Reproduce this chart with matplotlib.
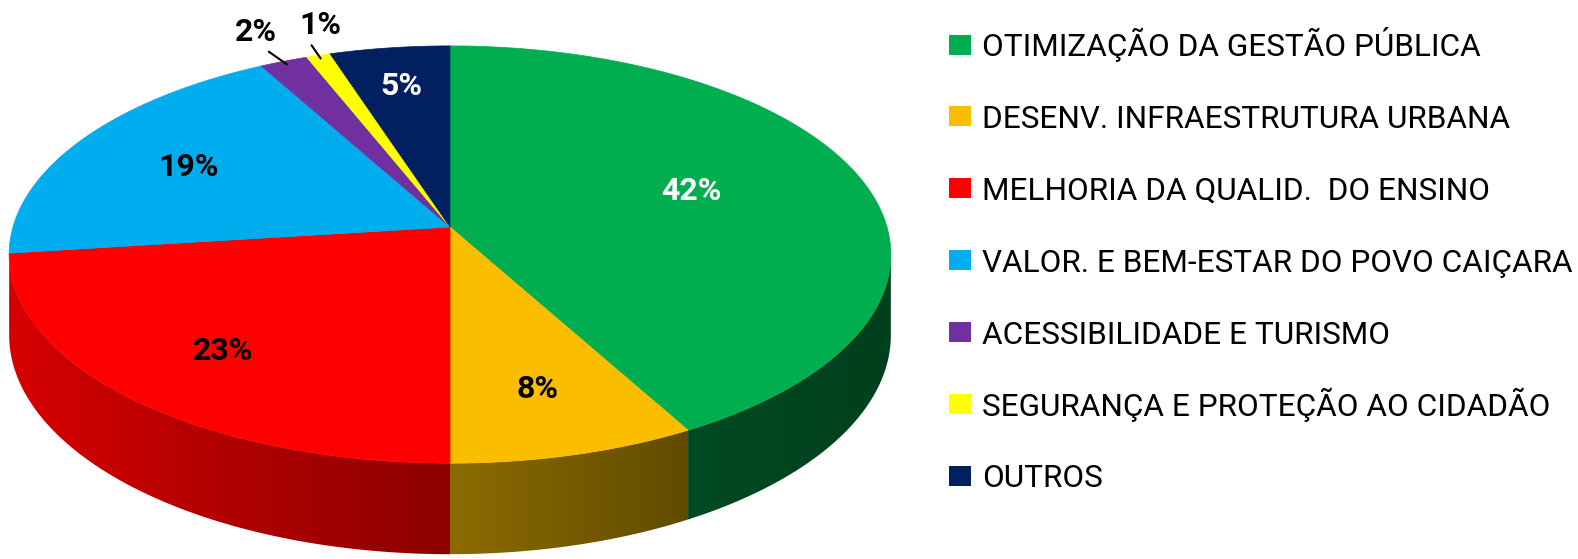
import matplotlib
matplotlib.use("Agg")
import matplotlib.pyplot as plt
import numpy as np
from matplotlib.colors import to_rgb
from matplotlib.patches import Polygon, Rectangle

# data
categories = [
    "OTIMIZAÇÃO DA GESTÃO PÚBLICA",
    "DESENV. INFRAESTRUTURA URBANA",
    "MELHORIA DA QUALID.  DO ENSINO",
    "VALOR. E BEM-ESTAR DO POVO CAIÇARA",
    "ACESSIBILIDADE E TURISMO",
    "SEGURANÇA E PROTEÇÃO AO CIDADÃO",
    "OUTROS",
]
shares = [42, 8, 23, 19, 2, 1, 5]
pct_labels = ["42%", "8%", "23%", "19%", "2%", "1%", "5%"]

top_colors = ["#00AE4F", "#FABD00", "#FF0000", "#00AEEF", "#7030A0", "#FFFF00", "#002060"]
side_left = ["#004A22", "#8C6B00", "#D60000", "#00729C", "#4A2069", "#A6A600", "#00153F"]
side_right = ["#00401D", "#604B00", "#8C0000", "#005070", "#35174C", "#808000", "#00102F"]
label_colors = ["white", "black", "black", "black", "black", "black", "white"]

# placement of the inside labels (fraction of radius, fraction of slice angle)
label_r = [0.6, 0.73, 0.73, 0.7, None, None, 0.78]
label_t = [0.47, 0.5, 0.5, 0.5, 0.5, 0.5, 0.5]
outside_offset = {4: (-22, 23), 5: (0, 24)}
outside_relpos = {4: (0.55, 0.1), 5: (0.15, 0.1)}

# pie geometry in pixels (perspective disk)
CX, CY = 450.0, 227.0
A, B, K = 437.0, 205.0, 0.132
DEPTH = 79.0

FONT = ["Roboto", "DejaVu Sans"]


def proj(theta, r=1.0, drop=0.0):
    u = r * np.sin(theta)
    v = -r * np.cos(theta)
    d = 1 - K * v
    return CX + A * u / d, CY + B * v / d + drop / d


fig = plt.figure(figsize=(15.78, 5.59), dpi=100)
ax = fig.add_axes([0, 0, 1, 1])
ax.set_xlim(0, 1578)
ax.set_ylim(559, 0)
ax.axis("off")

frac = np.array(shares, dtype=float) / sum(shares)
edges = np.concatenate([[0], np.cumsum(frac)]) * 2 * np.pi

# visible part of the side wall
th_l = np.arccos(-K)
th_r = 2 * np.pi - th_l

# side walls with a horizontal gradient (image clipped to the wall shape)
for i in range(len(shares)):
    a, b = max(edges[i], th_l), min(edges[i + 1], th_r)
    if b <= a:
        continue
    ts = np.linspace(a, b, 200)
    xt, yt = proj(ts)
    xb, yb = proj(ts[::-1], drop=DEPTH)
    xs, ys = np.r_[xt, xb], np.r_[yt, yb]
    poly = Polygon(np.column_stack([xs, ys]), closed=True, facecolor="none",
                   edgecolor="none")
    ax.add_patch(poly)
    c0, c1 = np.array(to_rgb(side_left[i])), np.array(to_rgb(side_right[i]))
    f = np.linspace(0, 1, 256)[None, :, None]
    grad = c0 + (c1 - c0) * f
    im = ax.imshow(grad, extent=(xs.min() - 0.5, xs.max() + 0.5, ys.max() + 0.5, ys.min() - 0.5),
                   aspect="auto", interpolation="bilinear", zorder=1)
    im.set_clip_path(poly)

# top faces
for i in range(len(shares)):
    ts = np.linspace(edges[i], edges[i + 1], max(int((edges[i + 1] - edges[i]) / 0.01), 2) + 1)
    xt, yt = proj(ts)
    pts = np.column_stack([np.r_[CX, xt], np.r_[CY, yt]])
    ax.add_patch(Polygon(pts, closed=True, facecolor=top_colors[i],
                         edgecolor=top_colors[i], lw=0.5, zorder=2))

# fit the legend font to the width of the reference text
renderer = fig.canvas.get_renderer()
probe = ax.text(0, 0, categories[0], fontsize=20, family=FONT)
w0 = probe.get_window_extent(renderer).width
probe.set_text(categories[3])
w3 = probe.get_window_extent(renderer).width
probe.remove()
leg_size = min(20 * 505 / w0, 20 * 590 / w3)

# percentage labels
for i, lab in enumerate(pct_labels):
    mid = edges[i] + label_t[i] * (edges[i + 1] - edges[i])
    if label_r[i] is not None:
        x, y = proj(mid, label_r[i])
        ax.text(x, y + 11.5, lab, ha="center", va="baseline", fontsize=23,
                fontweight="bold", color=label_colors[i], family=FONT, zorder=3)
    else:
        x, y = proj(mid, 0.98)
        ax.annotate(lab, xy=(x, y), xytext=outside_offset[i], textcoords="offset points",
                    ha="center", va="center", fontsize=23, fontweight="bold",
                    color=label_colors[i], family=FONT, zorder=3,
                    arrowprops=dict(arrowstyle="-", color="black", lw=1.5,
                                    relpos=outside_relpos[i], shrinkA=2, shrinkB=0))

# legend
row0, row_step = 44.5, 71.9
for i, cat in enumerate(categories):
    yc = row0 + i * row_step
    ax.add_patch(Rectangle((949, yc - 10), 22, 20, facecolor=top_colors[i], edgecolor="none"))
    ax.text(982, yc + 11.5, cat, ha="left", va="baseline", fontsize=leg_size,
            color="black", family=FONT)

fig.savefig("out.png", dpi=100, facecolor="white")
